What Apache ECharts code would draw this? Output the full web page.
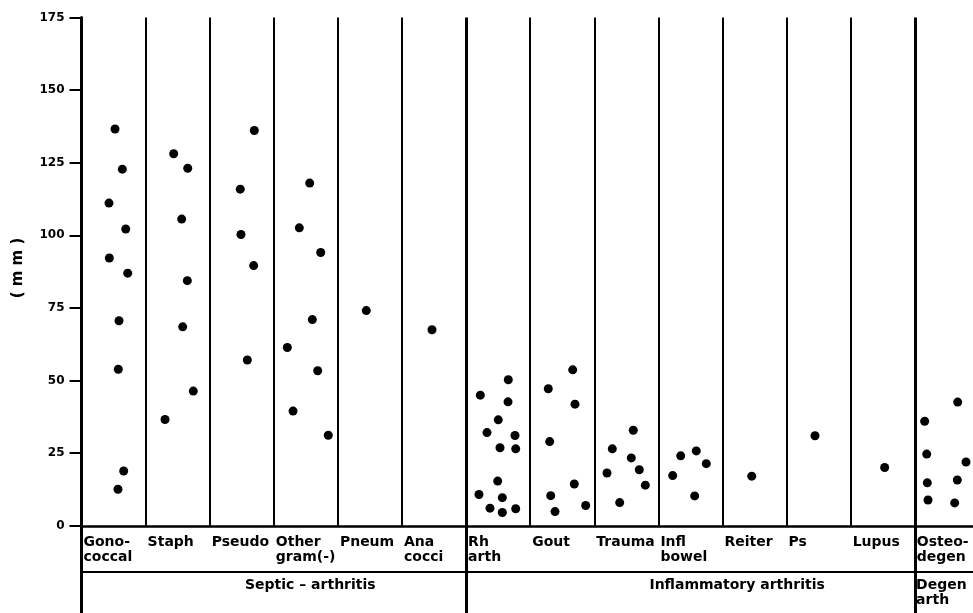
<!DOCTYPE html>
<html><head><meta charset="utf-8">
<script src="https://cdn.jsdelivr.net/npm/echarts@6/dist/echarts.min.js"></script>
<style>html,body{margin:0;padding:0;background:#fff}#c{width:973px;height:613px}</style>
</head><body><div id="c"></div>
<script>
// ---- data ----
const categories = ['Gono-\ncoccal','Staph','Pseudo','Other\ngram(-)','Pneum','Ana\ncocci','Rh\narth','Gout','Trauma','Infl\nbowel','Reiter','Ps','Lupus','Osteo-\ndegen'];
const groupNames = ['Septic \u2013 arthritis','Inflammatory arthritis','Degen\narth'];
const groupEnds = [6, 13, 14]; // category index where each group ends
const yTicks = [0,25,50,75,100,125,150,175];
const yTitle = '( m m )';

// [jitter within column (0..1), value in mm]
const gonococcal = [[0.523,136.6],[0.637,122.8],[0.429,111.1],[0.690,102.2],[0.434,92.2],[0.721,87.0],[0.585,70.6],[0.574,53.9],[0.658,18.9],[0.569,12.6]];
const staph = [[0.438,128.1],[0.657,123.1],[0.563,105.6],[0.651,84.4],[0.579,68.5],[0.744,46.4],[0.303,36.6]];
const pseudo = [[0.696,136.1],[0.477,115.9],[0.488,100.3],[0.686,89.6],[0.587,57.1]];
const otherGram = [[0.560,118.0],[0.398,102.6],[0.732,94.1],[0.601,71.0],[0.211,61.4],[0.685,53.4],[0.300,39.5],[0.850,31.2]];
const pneum = [[0.443,74.1]];
const anaCocci = [[0.468,67.5]];
const rhArth = [[0.658,50.3],[0.222,45.0],[0.654,42.7],[0.502,36.5],[0.326,32.1],[0.763,31.1],[0.529,26.9],[0.774,26.5],[0.493,15.4],[0.201,10.8],[0.565,9.7],[0.373,6.1],[0.774,5.9],[0.565,4.6]];
const gout = [[0.663,53.7],[0.282,47.2],[0.699,41.9],[0.304,29.0],[0.688,14.4],[0.320,10.4],[0.866,7.0],[0.387,4.9]];
const trauma = [[0.608,32.9],[0.281,26.5],[0.577,23.4],[0.702,19.3],[0.198,18.2],[0.796,14.0],[0.396,8.0]];
const inflBowel = [[0.591,25.8],[0.348,24.1],[0.747,21.4],[0.223,17.3],[0.566,10.3]];
const reiter = [[0.456,17.1]];
const ps = [[0.443,31.0]];
const lupus = [[0.530,20.1]];
const osteoDegen = [[0.669,42.6],[0.154,36.0],[0.186,24.7],[0.799,22.0],[0.663,15.8],[0.195,14.8],[0.206,8.9],[0.622,7.9]];

const columns = [gonococcal,staph,pseudo,otherGram,pneum,anaCocci,rhArth,gout,trauma,inflBowel,reiter,ps,lupus,osteoDegen];

// ---- build ----
const YMIN = -30, YMAX = 175, LABEL_RULE = -15.9;
const GRID_TOP = 17.5, GRID_H = 595.5;
const zeroOffset = -GRID_H * (0 - YMIN) / (YMAX - YMIN); // move category axis up to y = 0
const font = 'DejaVu Sans';
const scatterData = [];
columns.forEach((col, i) => col.forEach(([o, v]) => scatterData.push([i + o, v])));

const lines = [];
for (let k = 1; k < categories.length; k++) {
  const isGroup = groupEnds.indexOf(k) >= 0;
  lines.push([
    {coord: [k, isGroup ? YMIN : 0], lineStyle: {width: isGroup ? 3 : 2, color: '#000', type: 'solid'}},
    {coord: [k, YMAX]}
  ]);
}
lines.push({yAxis: LABEL_RULE, lineStyle: {width: 2, color: '#000', type: 'solid'}});

const groupAnchors = [2.55, 8.86, 13.02];

const chart = echarts.init(document.getElementById('c'), null, {renderer: 'canvas'});
chart.setOption({
  animation: false,
  backgroundColor: '#fff',
  grid: {left: 81.5, top: GRID_TOP, width: 897.4, height: GRID_H, containLabel: false, outerBoundsMode: 'none'},
  xAxis: [
    {type: 'category', data: categories.concat(['']), boundaryGap: false, position: 'bottom', offset: zeroOffset,
     axisLine: {show: true, onZero: false, lineStyle: {color: '#000', width: 2.5}},
     axisTick: {show: false}, splitLine: {show: false},
     axisLabel: {interval: 0, align: 'left', margin: 9, color: '#000', fontFamily: font, fontWeight: 'bold', fontSize: 14, lineHeight: 15, padding: [0,0,0,2]}},
    {type: 'value', min: 0, max: 14, show: false, position: 'bottom', axisLine: {onZero: false}},
    {type: 'value', min: 0, max: 14, position: 'bottom',
     axisLine: {show: false, onZero: false}, axisTick: {show: false}, splitLine: {show: false},
     axisLabel: {inside: true, customValues: groupAnchors, align: 'left', verticalAlign: 'top', margin: 35,
       color: '#000', fontFamily: font, fontWeight: 'bold', fontSize: 14, lineHeight: 15,
       formatter: v => { const i = groupAnchors.indexOf(v); return i >= 0 ? groupNames[i] : ''; }}}
  ],
  yAxis: {type: 'value', min: YMIN, max: YMAX,
    axisLine: {show: true, onZero: false, lineStyle: {color: '#000', width: 3}},
    axisTick: {show: true, customValues: yTicks, length: 12, lineStyle: {color: '#000', width: 2}},
    axisLabel: {customValues: yTicks, margin: 17, color: '#000', fontFamily: font, fontWeight: 'bold', fontSize: 12},
    splitLine: {show: false}},
  graphic: [{type: 'text', x: 18, y: 268, rotation: Math.PI / 2,
    style: {text: yTitle, align: 'center', verticalAlign: 'middle', font: 'bold 15px "DejaVu Sans"', fill: '#000'}}],
  series: [{
    type: 'scatter', xAxisIndex: 1, yAxisIndex: 0, symbol: 'circle', symbolSize: 9,
    itemStyle: {color: '#000', opacity: 1}, data: scatterData, silent: true, clip: false,
    markLine: {silent: true, symbol: ['none','none'], label: {show: false}, data: lines, animation: false}
  }]
});
</script></body></html>
